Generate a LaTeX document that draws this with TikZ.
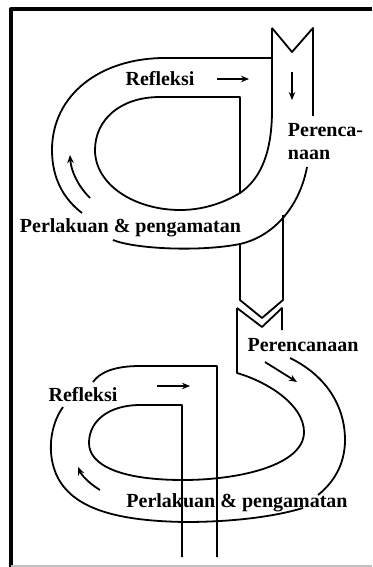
\documentclass[tikz,border=0pt]{standalone}
\usepackage{fontspec}
\setmainfont{Liberation Serif}
\usepackage{tikz}
\usetikzlibrary{arrows.meta}
\tikzset{every node/.append style={align=center}}
\newcommand{\lblfont}{\fontsize{20}{23}\selectfont\bfseries}

\begin{document}
\begin{tikzpicture}[x=1pt,y=-1pt, line width=1.8pt, line join=round,
    every node/.style={font=\lblfont,inner sep=0pt},
    flow/.style={-{Stealth[length=8pt,width=6.5pt]},line width=1.8pt}]
  \useasboundingbox (0,0) rectangle (372,567);
  \draw[line width=4pt] (11,567) -- (11,9) -- (372,9);
  \draw[black!25, line width=2pt] (11,566) -- (372,566);

  % upper cycle
  \draw (272,28) -- (292,52) -- (313,28) -- (313,116);
  \draw (272,28) -- (272,110) .. controls (272,150) and (262,178) .. (240,193)
        .. controls (225,202) and (205,210) .. (180,210)
        .. controls (135,210) and (95,185) .. (95,150)
        .. controls (95,120) and (120,97) .. (160,97) -- (240,97) -- (240,193);
  \draw (272,58) -- (165,58) .. controls (100,58) and (52,95) .. (52,150)
        .. controls (52,180) and (65,200) .. (82,213);
  \draw (113,240) .. controls (135,249) and (200,252) .. (240,244)
        .. controls (275,236) and (300,205) .. (307,167);
  \draw (240,244) -- (240,300) -- (262,318) -- (283,300) -- (283,215);
  \draw[flow] (90,198) .. controls (78,186) and (71,171) .. (70,155);
  \node (refl1) at (160,79) {Refleksi};
  \node[anchor=north west, align=left] (renc1) at (287,123) {Perenca-\\naan};
  \node[anchor=west] (laku1) at (19,228) {Perlakuan \& pengamatan};

  % lower cycle
  \draw (237,308) -- (262,327) -- (282,308) -- (282,330);
  \draw (237,308) -- (237,373) .. controls (268,382) and (304,405) .. (304,432)
        .. controls (304,465) and (240,480) .. (183,480)
        .. controls (120,480) and (89,465) .. (89,443)
        .. controls (89,420) and (110,405) .. (140,405) -- (182,405) -- (182,557);
  \draw (217,557) -- (217,366) -- (140,366) .. controls (115,366) and (100,372) .. (93,382);
  \draw (63,407) .. controls (50,425) and (46,455) .. (58,478)
        .. controls (75,510) and (120,521) .. (185,522)
        .. controls (240,522) and (280,515) .. (303,508);
  \draw (290,358) .. controls (325,375) and (345,405) .. (345,440)
        .. controls (345,465) and (333,483) .. (318,495);
  \draw[flow] (100,490) .. controls (90,484) and (82,476) .. (78,467);
  \node (refl2) at (83,395) {Refleksi};
  \node (renc2) at (303,345) {Perencanaan};
  \node (laku2) at (237,503) {Perlakuan \& pengamatan};

  \foreach \xa/\ya/\xb/\yb in {217/79/249/79, 292/72/292/100, 157/386/190/386, 265/362/297/382}
    \draw[flow] (\xa,\ya) -- (\xb,\yb);
\end{tikzpicture}
\end{document}
